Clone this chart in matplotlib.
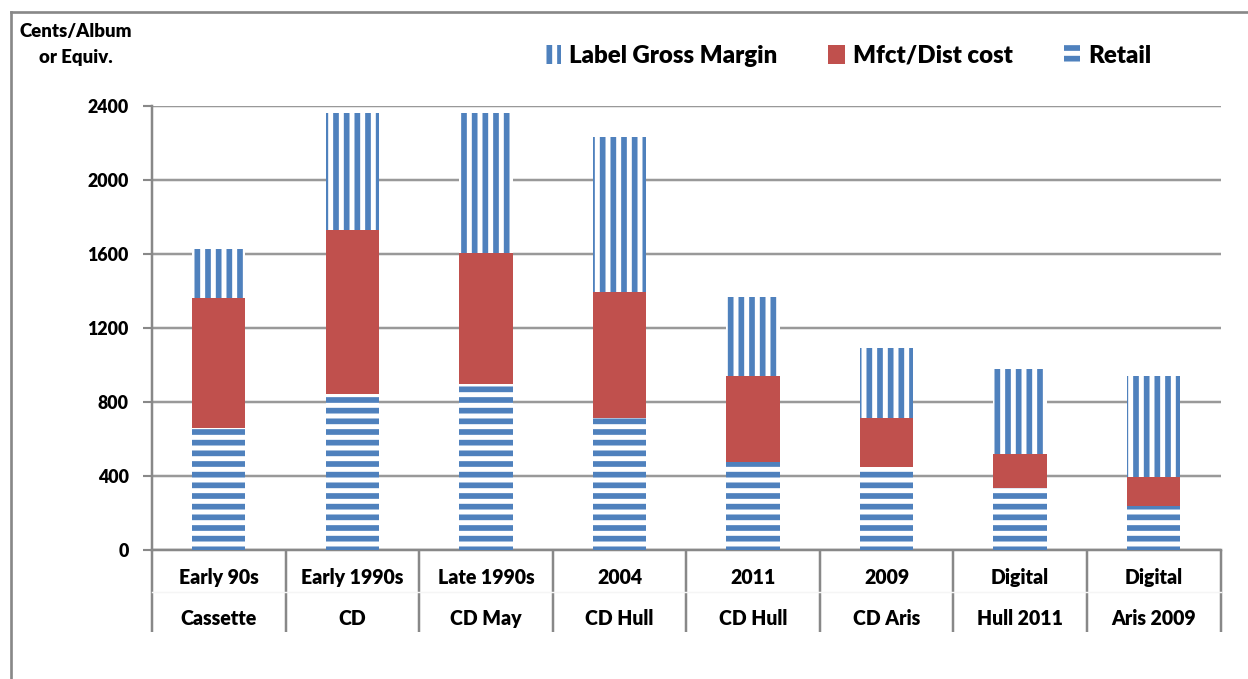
import numpy as np
import matplotlib
matplotlib.use("Agg")
import matplotlib.pyplot as plt
from matplotlib.lines import Line2D

# values (cents per album or equivalent)
row1 = ["Early 90s", "Early 1990s", "Late 1990s", "2004", "2011", "2009", "Digital", "Digital"]
row2 = ["Cassette", "CD", "CD May", "CD Hull", "CD Hull", "CD Aris", "Hull 2011", "Aris 2009"]
retail = [660, 843, 900, 712, 476, 447, 337, 240]
mfct_dist = [704, 888, 705, 682, 464, 268, 180, 156]
label_margin = [261, 631, 757, 838, 427, 377, 461, 544]
yticks = [0, 400, 800, 1200, 1600, 2000, 2400]

BLUE = "#4F81BD"
RED = "#C0504D"
GRID = "#999999"
WT = "heavy"

plt.rcParams["font.family"] = ["Lato", "DejaVu Sans"]
plt.rcParams["hatch.linewidth"] = 3.2

DPI = 128
fig = plt.figure(figsize=(1248 / DPI, 679 / DPI), dpi=DPI)
ax = fig.add_axes([152 / 1248, 1 - 550 / 679, (1220.5 - 152) / 1248, 444 / 679])

x = np.arange(len(row1))
w = 0.4
retail_a = np.array(retail)
mfct_a = np.array(mfct_dist)

b_ret = ax.bar(x, retail, w, color="white", edgecolor=BLUE, linewidth=0, hatch="--", zorder=3)
b_mfct = ax.bar(x, mfct_dist, w, bottom=retail_a, color=RED, linewidth=0, zorder=3)
b_marg = ax.bar(x, label_margin, w, bottom=retail_a + mfct_a, color="white",
                edgecolor=BLUE, linewidth=0, hatch="||", zorder=3)

ax.set_xlim(-0.5, len(row1) - 0.5)
ax.set_ylim(0, 2400)
ax.set_yticks(yticks)
ax.set_yticklabels([str(v) for v in yticks], fontsize=10, fontweight=WT)
ax.yaxis.grid(True, color=GRID, linewidth=1.4, zorder=0)
ax.set_axisbelow(True)
ax.tick_params(axis="y", length=5, width=1.2, color="#888888", pad=8)

for s in ["top", "right"]:
    ax.spines[s].set_visible(False)
ax.spines["left"].set_color("#888888")
ax.spines["left"].set_linewidth(1.4)
ax.spines["bottom"].set_color("#888888")
ax.spines["bottom"].set_linewidth(1.4)

# category separators below the axis
ax.set_xticks([])
ax.set_xticks(np.arange(len(row1) + 1) - 0.5, minor=True)
ax.tick_params(axis="x", which="minor", length=46, width=1.4, color="#888888")

for i in range(len(row1)):
    ax.text(x[i], -0.063, row1[i], transform=ax.get_xaxis_transform(),
            ha="center", va="center", fontsize=11, fontweight=WT)
    ax.text(x[i], -0.155, row2[i], transform=ax.get_xaxis_transform(),
            ha="center", va="center", fontsize=11, fontweight=WT)
ax.add_line(Line2D([0, 1], [-0.095, -0.095], transform=ax.transAxes,
                   color="#f5f5f5", linewidth=0.8, clip_on=False))

fig.text(76 / 1248, 1 - 32 / 679, "Cents/Album", ha="center", va="center",
         fontsize=10.5, fontweight=WT)
fig.text(76 / 1248, 1 - 57 / 679, "or Equiv.", ha="center", va="center",
         fontsize=10.5, fontweight=WT)

fig.legend([b_marg, b_mfct, b_ret], ["Label Gross Margin", "Mfct/Dist cost", "Retail"],
           loc="center", bbox_to_anchor=(848 / 1248, 1 - 56 / 679), ncol=3,
           frameon=False, prop={"size": 13.5, "weight": WT},
           handlelength=0.7, handleheight=0.8, handletextpad=0.35, columnspacing=2.1)

# outer chart border
fig.add_artist(Line2D([11 / 1248, 11 / 1248], [0, 1 - 12 / 679], color="#888888",
                      linewidth=1.5, transform=fig.transFigure))
fig.add_artist(Line2D([11 / 1248, 1], [1 - 12 / 679, 1 - 12 / 679], color="#888888",
                      linewidth=1.5, transform=fig.transFigure))

fig.savefig("out.png", dpi=DPI)
